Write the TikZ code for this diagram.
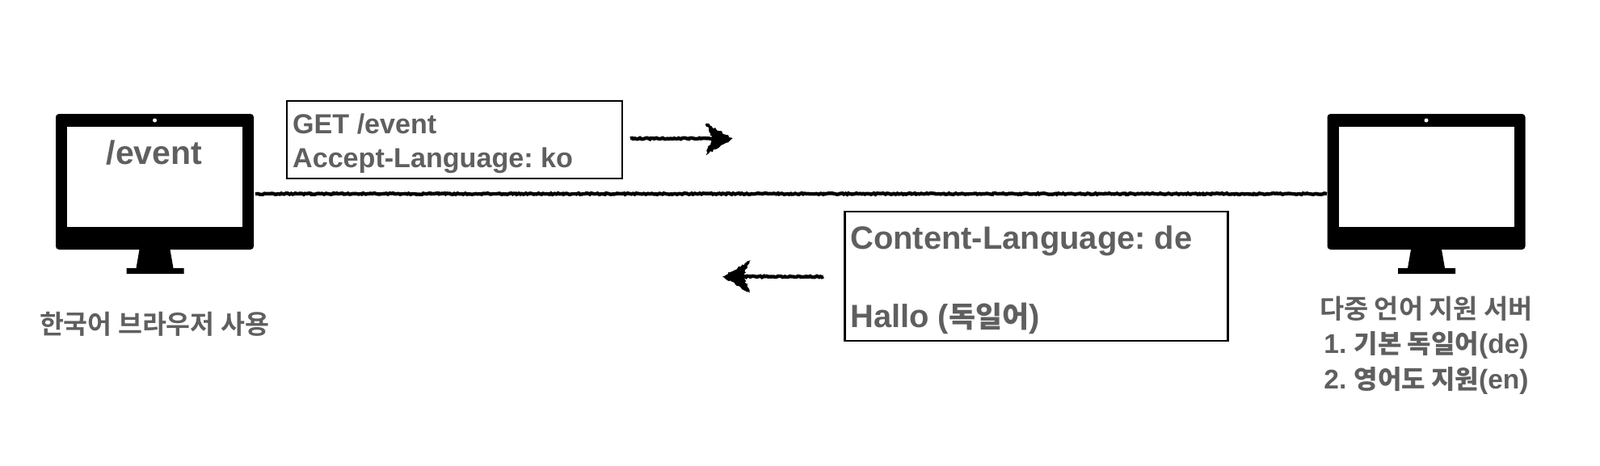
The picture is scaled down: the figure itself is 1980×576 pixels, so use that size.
\documentclass[tikz,border=0pt]{standalone}
\usepackage{fontspec}
\setmainfont{Liberation Sans}
\newfontfamily\cjk{Noto Sans CJK KR Bold}
\usetikzlibrary{decorations.pathmorphing}
\frenchspacing
\definecolor{txt}{HTML}{5F5F5F}
\tikzset{
  x=1pt,y=-1pt,
  monbody/.style={fill=black,inner sep=0pt,minimum width=245pt,minimum height=168pt,rounded corners=4pt},
  monscreen/.style={fill=white,inner sep=0pt,minimum width=217pt,minimum height=124pt},
  lbl/.style={text=txt,font=\bfseries,inner sep=0pt,anchor=base},
  lbll/.style={lbl,anchor=base west},
  msgbox/.style={draw=black,line width=2.4pt,fill=white,inner sep=0pt},
  sk/.style={draw=black,line width=4.4pt,decorate,decoration={random steps,segment length=2pt,amplitude=0.8pt}},
  skhead/.style={fill=black,draw=black,line width=0.6pt,decorate,decoration={random steps,segment length=2pt,amplitude=1.3pt}}
}
\newcommand{\monitor}[2]{%
  \node[monbody] (#2) at (#1,225) {};
  \node[monscreen] (#2s) at (#1,219) {};
  \fill[white] (#1,149) circle (2.5);
  \fill[black] (#1-19,309) -- (#1+19,309) -- (#1+23,332) -- (#1+36,332) -- (#1+36,339) -- (#1-35,339) -- (#1-35,332) -- (#1-23,332) -- cycle;
}
\begin{document}
\begin{tikzpicture}
\useasboundingbox (0,0) rectangle (1980,576);
\monitor{191.5}{lm}
\monitor{1765}{rm}
\node[lbl,font=\bfseries\fontsize{41}{41}\selectfont] (ev) at (191,203) {/event};
\node[lbl,font=\fontsize{32.5}{32.5}\selectfont\cjk] (lc) at (191,413) {한국어 브라우저 사용};
\node[lbl,font=\fontsize{32.8}{32.8}\selectfont\cjk] (rc1) at (1765,394) {다중 언어 지원 서버};
\node[lbl,font=\bfseries\fontsize{33.5}{33.5}\selectfont] (rc2) at (1765,437) {1. {\cjk\fontsize{32}{32}\selectfont 기본 독일어}(de)};
\node[lbl,font=\bfseries\fontsize{33.5}{33.5}\selectfont] (rc3) at (1765,481) {2. {\cjk\fontsize{32}{32}\selectfont 영어도 지원}(en)};
\node[msgbox,minimum width=415pt,minimum height=96pt] (b1) at (562.5,173) {};
\node[lbll,font=\bfseries\fontsize{34.1}{34.1}\selectfont] (t1) at (362,165) {GET /event};
\node[lbll,font=\bfseries\fontsize{34.1}{34.1}\selectfont] (t2) at (362,207) {Accept-Language: ko};
\node[msgbox,minimum width=474pt,minimum height=160pt] (b2) at (1282.5,342) {};
\node[lbll,font=\bfseries\fontsize{39.9}{39.9}\selectfont] (t3) at (1052,308) {Content-Language: de};
\node[lbll,font=\bfseries\fontsize{39.9}{39.9}\selectfont] (t4) at (1052,405) {Hallo ({\cjk\fontsize{36}{36}\selectfont 독일어})};
% connectors
\coordinate (la) at (316,240);
\coordinate (ra) at (1642,240);
\draw[sk] (la) -- (ra);
\coordinate (a1s) at (780,171.5);
\coordinate (a1e) at (885,171.5);
\coordinate (a2s) at (1019,342.5);
\coordinate (a2e) at (915,342.5);
\draw[sk] (a1s) -- (a1e);
\draw[sk] (a2s) -- (a2e);
\path[skhead] (906,171.5) -- (874,153) -- (882,171.5) -- (874,191) -- cycle;
\path[skhead] (895,342.5) -- (928,323) -- (919,342.5) -- (928,362) -- cycle;
\end{tikzpicture}
\end{document}
